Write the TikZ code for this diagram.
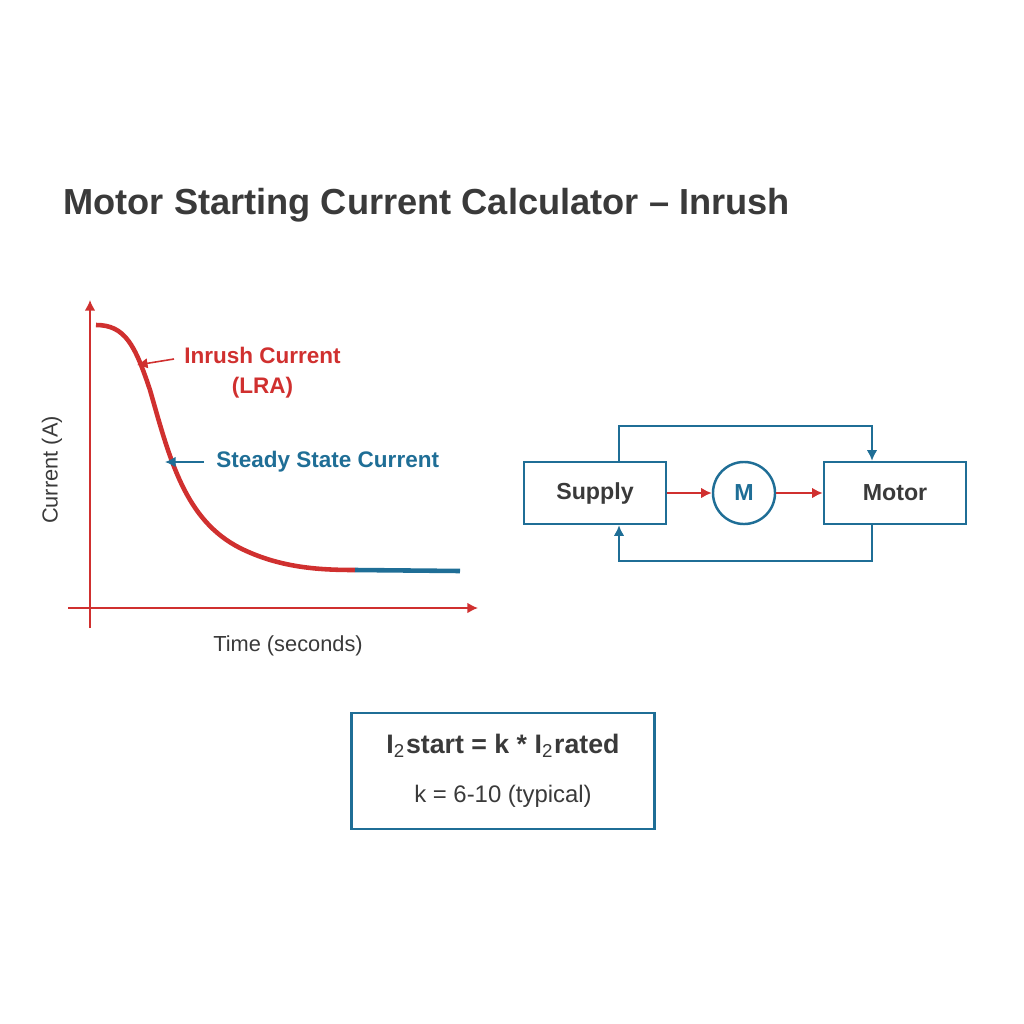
\documentclass[tikz,border=0pt]{standalone}
\usepackage{fontspec}
\setmainfont{Liberation Sans}
\usetikzlibrary{positioning, arrows.meta}
\definecolor{redc}{HTML}{D0302F}
\definecolor{bluec}{HTML}{1F6E96}
\definecolor{textc}{HTML}{3A3A3A}
\begin{document}
\begin{tikzpicture}[x=0.01cm, y=-0.01cm,
		block/.style={draw=bluec, line width=0.7pt, minimum width=1.42cm, minimum height=0.62cm, inner sep=0pt, text=textc, font=\fontsize{6.6}{8}\selectfont\bfseries},
		flow/.style={-{Latex[length=3pt,width=3pt]}, line width=0.55pt}]
			\useasboundingbox (0,0) rectangle (1024,1024);
			
			%% Title
			\node[anchor=west, text=textc, font=\fontsize{10.3}{12}\selectfont\bfseries] (title) at (51,205) {Motor Starting Current Calculator -- Inrush};
			
			%% Axes
			\coordinate (yb) at (90,628);
			\coordinate (yt) at (90,300);
			\coordinate (xl) at (68,608);
			\coordinate (xr) at (478,608);
			\draw[flow, redc, line width=0.45pt] (yb)--(yt);
			\draw[flow, redc, line width=0.45pt] (xl)--(xr);
			\node[rotate=90, text=textc, font=\fontsize{6.2}{8}\selectfont] (ylab) at (52,470) {Current (A)};
			\node[text=textc, font=\fontsize{6.2}{8}\selectfont] (xlab) at (288,646) {Time (seconds)};
			
			%% Curve
			\draw[redc, line width=1.3pt] (96,325) .. controls (125,325) and (135,345) .. (150,390)
				.. controls (170,460) and (185,520) .. (240,548)
				.. controls (280,568) and (320,570) .. (355,570);
			\draw[bluec, line width=1.3pt] (355,570)--(460,571);
			
			%% Labels
			\node[anchor=west, text=redc, font=\fontsize{6.4}{8.5}\selectfont\bfseries, align=center] (inrush) at (172,373) {Inrush Current\\(LRA)};
			\coordinate (inrushTip) at (137,365);
			\draw[flow, redc, line width=0.45pt] (174,359)--(inrushTip);
			\node[anchor=west, text=bluec, font=\fontsize{6.4}{8}\selectfont\bfseries] (steady) at (204,462) {Steady State Current};
			\coordinate (steadyTip) at (165,462);
			\draw[flow, bluec, line width=0.45pt] (steady.west)--(steadyTip);
			
			%% Block diagram
			\node[block] (supply) at (595,493) {Supply};
			\node[draw=bluec, line width=0.7pt, circle, minimum size=0.62cm, inner sep=0pt, text=bluec, font=\fontsize{6.6}{8}\selectfont\bfseries] (m) at (744,493) {M};
			\node[block] (motor) at (895,493) {Motor};
			\draw[flow, redc] (supply)--(m);
			\draw[flow, redc] (m)--(motor);
			\draw[flow, bluec] (supply.north -| 619,0) |- (0,426 -| 872,0) -- (motor.north -| 872,0);
			\draw[flow, bluec] (motor.south -| 872,0) |- (0,561 -| 619,0) -- (supply.south -| 619,0);
			
			%% Formula
			\node[draw=bluec, line width=0.7pt, minimum width=3.03cm, minimum height=1.16cm, text=textc, align=center] (formula) at (503,771)
				{{\fontsize{7.6}{9}\selectfont\bfseries I\textsubscript{\normalfont 2}start = k * I\textsubscript{\normalfont 2}rated}\\[2pt]{\fontsize{6.8}{8}\selectfont k = 6-10 (typical)}};
\end{tikzpicture}
\end{document}
